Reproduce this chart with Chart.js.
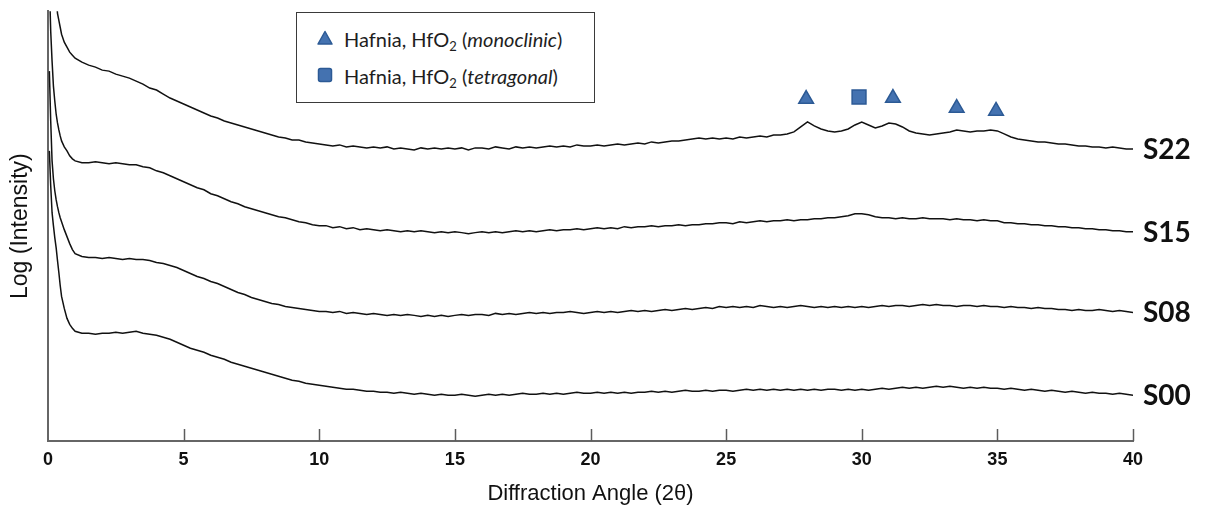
<!DOCTYPE html>
<html>
<head>
<meta charset="utf-8">
<title>XRD patterns S00–S22</title>
<script src="https://cdn.jsdelivr.net/npm/chart.js@4.4.1/dist/chart.umd.min.js"></script>
<style>
  html, body { margin: 0; padding: 0; background: #fff; }
  #wrap { position: relative; width: 1205px; height: 508px; }
  #legend {
    position: absolute; left: 296px; top: 12px; width: 297px; height: 89px;
    border: 1.5px solid #3a3a3a; background: #fff;
    font-family: Lato, "Open Sans", sans-serif; font-size: 20px; color: #1e1e1e;
  }
  #legend .item { position: absolute; left: 0; height: 24px; line-height: 24px; white-space: nowrap; }
  #legend .item svg { position: absolute; left: 20px; top: 3px; }
  #legend .item span { position: absolute; left: 47px; top: 0; }
  #legend sub { font-size: 13px; vertical-align: -4px; line-height: 0; }
</style>
</head>
<body>
<div id="wrap">
  <canvas id="xrd" width="1205" height="508"></canvas>
  <div id="legend"></div>
</div>
<script>
// Diffraction angle 2θ (degrees) shared by all four scans
const ANGLE = [0.05,0.1,0.15,0.2,0.25,0.3,0.35,0.4,0.45,0.5,0.6,0.7,0.8,0.9,
  1,1.25,1.5,1.75,2,2.25,2.5,2.75,3,3.25,3.5,3.75,4,4.25,4.5,4.75,5,5.25,5.5,5.75,
  6,6.25,6.5,6.75,7,7.25,7.5,7.75,8,8.25,8.5,8.75,9,9.25,9.5,9.75,10,10.25,10.5,10.75,
  11,11.25,11.5,11.75,12,12.25,12.5,12.75,13,13.25,13.5,13.75,14,14.25,14.5,14.75,
  15,15.25,15.5,15.75,16,16.25,16.5,16.75,17,17.25,17.5,17.75,18,18.25,18.5,18.75,
  19,19.25,19.5,19.75,20,20.25,20.5,20.75,21,21.25,21.5,21.75,22,22.25,22.5,22.75,
  23,23.25,23.5,23.75,24,24.25,24.5,24.75,25,25.25,25.5,25.75,26,26.25,26.5,26.75,
  27,27.25,27.5,27.75,28,28.25,28.5,28.75,29,29.25,29.5,29.75,30,30.25,30.5,30.75,
  31,31.25,31.5,31.75,32,32.25,32.5,32.75,33,33.25,33.5,33.75,34,34.25,34.5,34.75,
  35,35.25,35.5,35.75,36,36.25,36.5,36.75,37,37.25,37.5,37.75,38,38.25,38.5,38.75,
  39,39.25,39.5,39.75,40];

// Log intensity (arbitrary units, traces offset vertically)
const S22 = [560,520,510,490,470,446,429,422,415,408,400,395,390,387,
  384,380,377,375, 372,371,368,366, 364,361,358,354, 352,348,344,341, 338,335,332,329,
  326,324,321,319, 317,315,313,311, 309,307,305,304, 302,302,300,299, 298,297,296,297,
  295,296,295,294, 295,294,295,293, 294,293,292,294, 293,294,293,294, 293,294,292,294,
  294,293,295,294, 293,295,294,295, 294,295,296,295, 296,295,297,296, 296,297,296,297,
  298,297,298,299, 298,300,299,300, 301,301,302,303, 304,303,304,303, 304,303,305,304,
  305,306,305,307, 307,308,310,315, 320,316,313,311, 310,311,313,317, 320,317,314,316,
  319,318,315,311, 309,308,307,308, 309,310,312,311, 310,311,311,312, 311,308,305,303,
  302,301,300,300, 299,298,298,297, 296,296,295,295, 294,295,294,293, 293];

const S15 = [460,411,381,356,341,328,319,312,306,301,295,291,286,283,
  281,279,279,280, 279,278,279,278, 277,277,275,274, 271,269,266,263, 260,257,254,252,
  248,246,243,240, 238,235,233,231, 229,227,225,224, 222,220,219,217, 216,216,214,215,
  213,214,212,213, 212,211,212,211, 210,211,210,211, 210,209,210,209, 210,209,208,209,
  210,209,210,209, 210,211,210,211, 210,211,212,211, 212,212,213,212, 213,214,213,214,
  213,215,214,215, 215,216,215,216, 216,217,216,217, 217,218,218,219, 219,218,220,219,
  220,221,220,221, 221,222,221,222, 222,223,223,224, 224,225,226,228, 228,227,225,224,
  224,223,224,223, 223,224,223,223, 223,222,223,222, 222,221,222,221, 221,219,219,218,
  218,217,217,216, 216,215,215,214, 214,213,213,212, 212,211,211,210, 210];

const S08 = [371,321,281,263,251,242,235,229,224,220,212,205,198,192,
  188,185,184,184, 183,184,183,182, 183,182,182,181, 179,178,176,174, 171,168,165,163,
  160,158,155,152, 149,147,144,142, 140,138,137,135, 134,133,132,131, 130,130,129,130,
  128,129,128,127, 128,127,126,127, 126,127,126,125, 126,125,126,125, 126,127,126,127,
  127,126,128,127, 128,127,128,129, 128,129,128,129, 129,130,129,128, 129,130,129,130,
  129,130,131,130, 131,130,131,132, 131,132,133,132, 133,134,133,135, 134,135,134,135,
  134,136,135,134, 135,134,135,136, 135,134,135,134, 135,134,135,134, 135,134,135,136,
  135,136,136,135, 136,137,136,137, 136,136,135,136, 136,135,136,135, 135,134,135,134,
  134,133,134,133, 133,132,132,131, 132,131,131,132, 131,130,131,130, 129];

const S00 = [291,256,229,216,204,194,181,169,156,145,133,123,117,113,
  110,108,108,107, 108,108,109,108, 109,110,108,107, 106,104,102,99, 96,93,91,89,
  86,84,82,79, 77,75,73,71, 69,67,65,63, 61,60,58,57, 56,55,54,53,
  52,52,51,50, 50,49,49,48, 49,48,47,48, 47,46,47,46, 46,47,46,45,
  46,47,46,47, 46,47,48,47, 47,48,47,48, 47,48,49,48, 48,49,48,49,
  48,49,48,49, 49,50,49,50, 49,50,51,50, 50,51,50,51, 51,50,51,52,
  51,52,51,52, 51,52,51,52, 51,52,51,52, 52,51,52,51, 52,51,52,53,
  52,53,54,53, 54,53,54,55, 54,55,54,53, 54,53,54,53, 53,52,53,52,
  51,52,51,50, 51,50,49,50, 49,48,49,48, 48,47,48,47, 46];

const SAMPLES = ['S22', 'S15', 'S08', 'S00'];
const SERIES = [S22, S15, S08, S00];

// HfO2 reflections marked above the S22 trace
const MONO_ANGLE = [27.95, 31.15, 33.5, 34.95];
const MONO_LEVEL = [343, 344, 334, 331];
const TETRA_ANGLE = [29.9];
const TETRA_LEVEL = [345];

const X_TICKS = [0, 5, 10, 15, 20, 25, 30, 35, 40];

const MARK_FILL = '#4472b0';
const MARK_EDGE = '#2c5a95';

const pts = (xs, ys) => xs.map((x, i) => ({ x, y: ys[i] }));

const traceSets = SERIES.map((vals, i) => ({
  label: SAMPLES[i],
  data: pts(ANGLE, vals),
  borderColor: '#111',
  borderWidth: 1.5,
  pointRadius: 0,
  tension: 0,
  fill: false
}));

const markerSets = [
  {
    label: 'Hafnia, HfO2 (monoclinic)',
    legendHtml: 'Hafnia, HfO<sub>2</sub> (<i>monoclinic</i>)',
    data: pts(MONO_ANGLE, MONO_LEVEL),
    showLine: false,
    pointStyle: 'triangle',
    pointRadius: 8.5,
    backgroundColor: MARK_FILL,
    borderColor: MARK_EDGE,
    borderWidth: 1.5
  },
  {
    label: 'Hafnia, HfO2 (tetragonal)',
    legendHtml: 'Hafnia, HfO<sub>2</sub> (<i>tetragonal</i>)',
    data: pts(TETRA_ANGLE, TETRA_LEVEL),
    showLine: false,
    pointStyle: 'rect',
    pointRadius: 9.8,
    backgroundColor: MARK_FILL,
    borderColor: MARK_EDGE,
    borderWidth: 1.5
  }
];

// inward tick marks on the angle axis + sample names at the right end of each trace
const overlay = {
  id: 'overlay',
  afterDraw(chart) {
    const { ctx, chartArea, scales: { x, y } } = chart;
    ctx.save();
    ctx.strokeStyle = '#5c5c5c';
    ctx.lineWidth = 1.5;
    x.ticks.forEach(t => {
      if (t.value === 0) return;
      const px = Math.round(x.getPixelForValue(t.value)) + 0.5;
      ctx.beginPath();
      ctx.moveTo(px, chartArea.bottom);
      ctx.lineTo(px, chartArea.bottom - 12);
      ctx.stroke();
    });
    ctx.font = 'bold 28px Lato, "Open Sans", sans-serif';
    ctx.fillStyle = '#111';
    ctx.textAlign = 'left';
    ctx.textBaseline = 'middle';
    SERIES.forEach((vals, i) => {
      const py = y.getPixelForValue(vals[vals.length - 1]);
      ctx.fillText(SAMPLES[i], chartArea.right + 10, py + 1);
    });
    ctx.restore();
  }
};

// legend box built from the marker datasets
const htmlLegend = {
  id: 'htmlLegend',
  afterInit(chart) {
    const box = document.getElementById('legend');
    const tops = [14, 51];
    chart.data.datasets.filter(d => d.legendHtml).forEach((d, i) => {
      const item = document.createElement('div');
      item.className = 'item';
      item.style.top = tops[i] + 'px';
      const shape = d.pointStyle === 'triangle'
        ? '<polygon points="8,1.5 15,14 1,14" />'
        : '<rect x="1.5" y="1.5" width="13" height="13" rx="2" />';
      item.innerHTML =
        '<svg width="16" height="16" viewBox="0 0 16 16"><g fill="' + d.backgroundColor +
        '" stroke="' + d.borderColor + '" stroke-width="1.5" stroke-linejoin="round">' + shape +
        '</g></svg><span>' + d.legendHtml + '</span>';
      box.appendChild(item);
    });
  }
};

new Chart(document.getElementById('xrd'), {
  type: 'line',
  data: { datasets: [...traceSets, ...markerSets] },
  plugins: [overlay, htmlLegend],
  options: {
    responsive: false,
    animation: false,
    events: [],
    layout: { padding: { left: 0, right: 72, top: 10, bottom: 0 } },
    plugins: { legend: { display: false }, tooltip: { enabled: false } },
    scales: {
      x: {
        type: 'linear',
        min: 0,
        max: 40,
        afterBuildTicks(scale) { scale.ticks = X_TICKS.map(v => ({ value: v })); },
        afterFit(scale) { scale.height = 67; },
        grid: { display: false, drawTicks: false },
        border: { display: true, color: '#666', width: 2 },
        ticks: {
          padding: 8,
          color: '#111',
          font: { family: '"Liberation Sans", Arial, sans-serif', size: 18, weight: 'bold' },
          maxRotation: 0
        },
        title: {
          display: true,
          text: 'Diffraction Angle (2θ)',
          color: '#111',
          font: { family: '"Liberation Sans", Arial, sans-serif', size: 22 },
          padding: { top: 0, bottom: 1 }
        }
      },
      y: {
        min: 0,
        max: 431,
        afterFit(scale) { scale.width = 48; },
        grid: { display: false, drawTicks: false },
        border: { display: true, color: '#666', width: 2 },
        ticks: { display: false },
        title: {
          display: true,
          text: 'Log (Intensity)',
          color: '#111',
          font: { family: '"Liberation Sans", Arial, sans-serif', size: 23 },
          padding: { top: 7, bottom: 0 }
        }
      }
    }
  }
});
</script>
</body>
</html>
